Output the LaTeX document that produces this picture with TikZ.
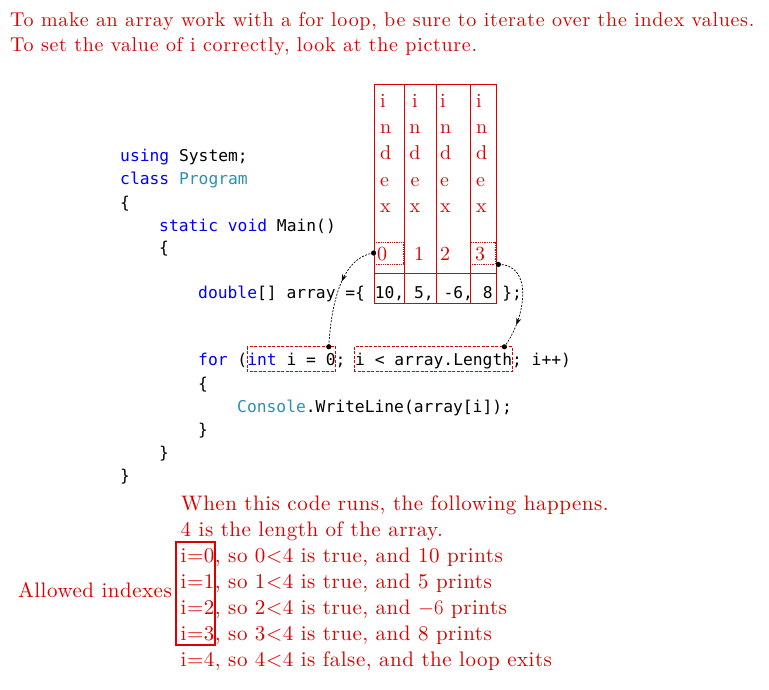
\documentclass[tikz,border=0pt]{standalone}
\usepackage{fontspec}
\newfontfamily\codefont{DejaVu Sans Mono}
\newfontfamily\rfont{lmroman10-regular.otf}[LetterSpace=2.4]
\newfontfamily\hfont{lmroman10-regular.otf}[LetterSpace=3.5]
\usetikzlibrary{arrows.meta,decorations.markings}
\definecolor{tred}{RGB}{220,0,0}
\definecolor{kw}{RGB}{0,0,255}
\definecolor{ty}{RGB}{43,145,175}
\def\cw{9.81}
\tikzset{
  htxt/.style={text=tred, font=\hfont\fontsize{20}{24}\selectfont, anchor=base west, inner sep=0pt},
  txt/.style={text=tred, font=\rfont\fontsize{21}{24}\selectfont, anchor=base west, inner sep=0pt},
  idxl/.style={text=tred, font=\rfont\fontsize{20}{24}\selectfont, anchor=base west, inner sep=0pt},
  code/.style={font=\codefont\fontsize{16.3}{20}\selectfont, anchor=base west, inner sep=0pt},
  tline/.style={draw=tred, line width=0.9pt},
  zbox/.style={draw=tred, densely dotted, line width=0.8pt, inner sep=0pt},
  cbox/.style={inner xsep=0pt, inner ysep=1pt, text height=17pt, text depth=5pt, anchor=base west},
  cframe/.style={draw=tred, line width=1pt, dash pattern=on 3pt off 1.5pt},
  link/.style={draw=black, line width=0.7pt, dash pattern=on 2pt off 1.4pt},
  midarrow/.style={postaction={decorate}, decoration={markings, mark=at position #1 with {\arrow[solid]{Stealth[length=7pt,width=5pt]}}}}
}
\begin{document}
\begin{tikzpicture}[x=1pt,y=-1pt]
\useasboundingbox (0,0) rectangle (769,690);
% header
\node[htxt] (h1) at (10,27) {To make an array work with a for loop, be sure to iterate over the index values.};
\node[htxt] (h2) at (10,52) {To set the value of i correctly, look at the picture.};
% table
\draw[tline] (374,84) rectangle (496,303);
\draw[tline] (404,84) -- (404,303);
\draw[tline] (436,84) -- (436,303);
\draw[tline] (470,84) -- (470,303);
\draw[tline] (374,273) -- (496,273);
\foreach \l/\y in {i/108,n/134,d/160,e/186,x/212}{
  \node[idxl] (ia-\l) at (380,\y) {\l};
  \node[idxl, anchor=base] (ib-\l) at (415,\y) {\l};
  \node[idxl] (ic-\l) at (440,\y) {\l};
  \node[idxl] (id-\l) at (476,\y) {\l};
}
\node[idxl] (n0) at (377,260) {0};
\node[idxl] (n1) at (414,260) {1};
\node[idxl] (n2) at (440,260) {2};
\node[idxl] (n3) at (475,260) {3};
\node[zbox, minimum width=29pt, minimum height=22pt] (z0) at (388.5,253) {};
\node[zbox, minimum width=25pt, minimum height=22pt] (z3) at (482.5,253) {};
% code
\node[code] (l1) at (120,162) {{\color{kw}using} System;};
\node[code] (l2) at (120,185) {{\color{kw}class} {\color{ty}Program}};
\node[code] (l3) at (120,208) {\{};
\node[code] (l4) at (159,231) {{\color{kw}static} {\color{kw}void} Main()};
\node[code] (l5) at (159,254) {\{};
\node[code] (l6) at (198,298) {{\color{kw}double}[] array =\{ 10, 5, -6, 8 \};};
\node[code] (f1) at (198,365) {{\color{kw}for} (};
\node[code, cbox] (intbox) at (198+5*\cw,365) {{\color{kw}int} i = 0};
\node[code] (f3) at (198+14*\cw,365) {;};
\node[code, cbox] (lenbox) at (198+16*\cw,365) {i < array.Length};
\node[code] (f5) at (198+32*\cw,365) {; i++)};
\draw[cframe] (intbox.north west) rectangle (intbox.south east);
\draw[cframe] (lenbox.north west) rectangle (lenbox.south east);
\node[code] (l8) at (198,389) {\{};
\node[code] (l9) at (237,412) {{\color{ty}Console}.WriteLine(array[i]);};
\node[code] (l10) at (198,435) {\}};
\node[code] (l11) at (159,458) {\}};
\node[code] (l12) at (120,481) {\}};
% connectors
\coordinate (d1) at (z0.west);
\coordinate (d2) at ([xshift=3pt]z3.south east);
\coordinate (d3) at ([xshift=-7pt]intbox.north east);
\coordinate (d4) at ([xshift=-8pt]lenbox.north east);
\draw[link, midarrow=0.4] (d1) .. controls +(-35,5) and +(2,-35) .. (d3);
\draw[link, midarrow=0.75] (d2) .. controls +(35,0) and +(22,-30) .. (d4);
\foreach \d in {d1,d2,d3,d4} \fill (\d) circle (2.6);
% bottom text
\node[txt] (b1) at (181,510) {When this code runs, the following happens.};
\node[txt] (b2) at (180.5,536) {4 is the length of the array.};
\node[txt] (b3) at (180.5,562) {i=0, so 0<4 is true, and 10 prints};
\node[txt] (b4) at (180.5,588) {i=1, so 1<4 is true, and 5 prints};
\node[txt] (b5) at (180.5,614) {i=2, so 2<4 is true, and $-6$ prints};
\node[txt] (b6) at (180.5,640) {i=3, so 3<4 is true, and 8 prints};
\node[txt] (b7) at (180.5,666) {i=4, so 4<4 is false, and the loop exits};
\node[draw=tred, line width=1.2pt, minimum width=39pt, minimum height=103pt, inner sep=0pt] (idxbox) at (195.5,593.5) {};
\node[txt, anchor=base east] (allowed) at (172,597) {Allowed indexes};
\end{tikzpicture}
\end{document}
